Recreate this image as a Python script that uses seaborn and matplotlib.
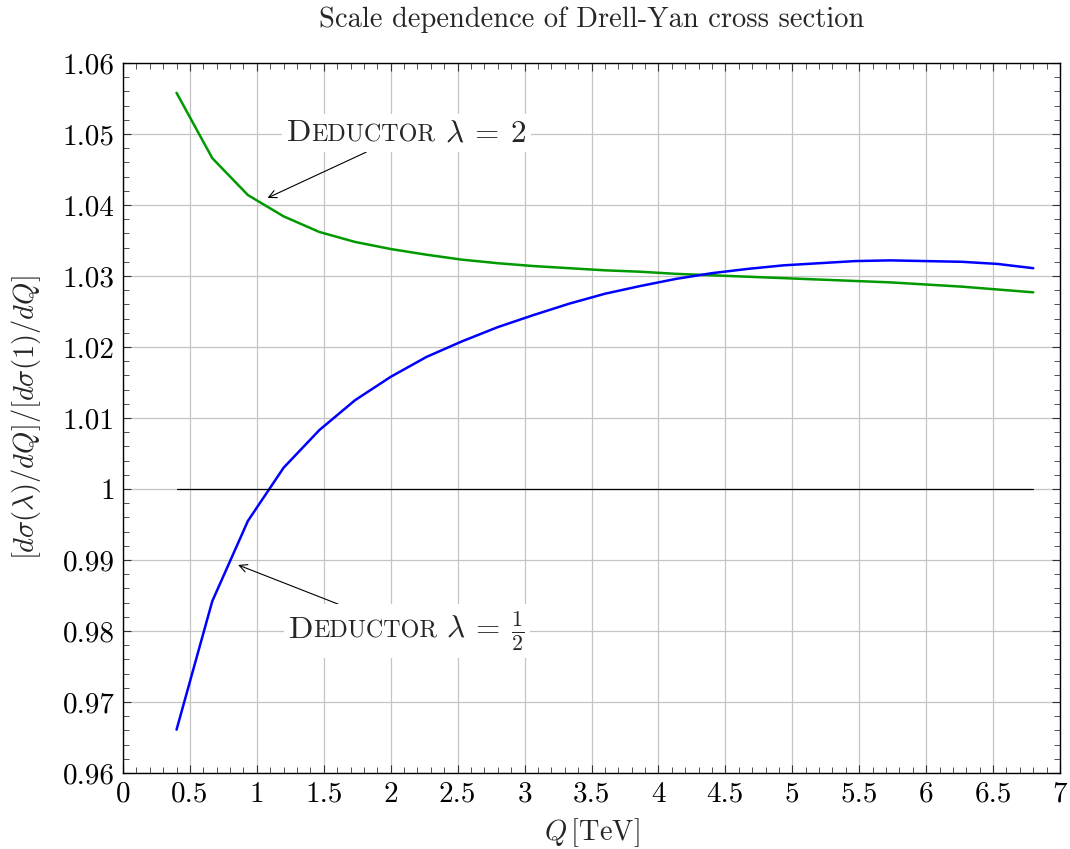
import numpy as np
import pandas as pd
import matplotlib
matplotlib.use("Agg")
import matplotlib.pyplot as plt
import seaborn as sns
from matplotlib.ticker import MultipleLocator, FuncFormatter
from matplotlib.offsetbox import TextArea, HPacker, AnnotationBbox

Q = [0.4, 0.667, 0.933, 1.2, 1.467, 1.733, 2.0, 2.267, 2.533, 2.8, 3.067, 3.333,
     3.6, 3.867, 4.133, 4.4, 4.667, 4.933, 5.2, 5.467, 5.733, 6.0, 6.267, 6.533, 6.8]
ratio_lam2 = [1.0558, 1.0466, 1.0414, 1.0384, 1.0362, 1.0348, 1.0338, 1.0330, 1.0323,
              1.0318, 1.0314, 1.0311, 1.0308, 1.0306, 1.0303, 1.0301, 1.0299, 1.0297,
              1.0295, 1.0293, 1.0291, 1.0288, 1.0285, 1.0281, 1.0277]
ratio_lamhalf = [0.9661, 0.9842, 0.9955, 1.0030, 1.0083, 1.0125, 1.0158, 1.0186, 1.0208,
                 1.0228, 1.0245, 1.0261, 1.0275, 1.0286, 1.0296, 1.0304, 1.0310, 1.0315,
                 1.0318, 1.0321, 1.0322, 1.0321, 1.0320, 1.0317, 1.0311]
ref_x = [0.4, 6.8]
ref_y = [1.0, 1.0]

sns.set_style("ticks")
plt.rcParams["font.family"] = ["serif"]
plt.rcParams["font.serif"] = ["cmr10"]
plt.rcParams["mathtext.fontset"] = "cm"
plt.rcParams["axes.unicode_minus"] = False
plt.rcParams["axes.formatter.use_mathtext"] = True

fig = plt.figure(figsize=(10.70, 8.49), dpi=100)
ax = fig.add_axes([123/1070, 76/849, (1060-123)/1070, (773-63)/849])

df = pd.DataFrame({"Q": Q + Q, "r": ratio_lam2 + ratio_lamhalf,
                   "s": ["lam2"]*len(Q) + ["lamhalf"]*len(Q)})
sns.lineplot(data=df, x="Q", y="r", hue="s", palette={"lam2": "#009900", "lamhalf": "#0000ff"},
             linewidth=1.8, legend=False, ax=ax, zorder=3)
sns.lineplot(x=ref_x, y=ref_y, color="black", linewidth=0.9, ax=ax, zorder=3)

ax.set_xlim(0, 7)
ax.set_ylim(0.96, 1.06)
ax.xaxis.set_major_locator(MultipleLocator(0.5))
ax.xaxis.set_minor_locator(MultipleLocator(0.1))
ax.yaxis.set_major_locator(MultipleLocator(0.01))
ax.yaxis.set_minor_locator(MultipleLocator(0.002))
ax.xaxis.set_major_formatter(FuncFormatter(lambda v, p: f"{round(v, 2):g}"))
ax.yaxis.set_major_formatter(FuncFormatter(lambda v, p: f"{round(v, 3):g}"))
ax.tick_params(which="both", direction="in", top=True, right=True, colors="#333333",
               labelcolor="black", labelsize=21)
ax.tick_params(which="major", length=6, width=0.8, pad=6)
ax.tick_params(which="minor", length=4, width=0.6)
ax.grid(True, which="major", color="#c4c4c4", linewidth=0.9, zorder=0)
ax.set_axisbelow(True)
for s in ax.spines.values():
    s.set_linewidth(1.0)
    s.set_color("black")

ax.set_xlabel(r"$Q\,[\mathrm{TeV}]$", fontsize=20.5, labelpad=6)
ax.set_ylabel(r"$[d\sigma(\lambda)/dQ]/[d\sigma(1)/dQ]$", fontsize=20.5, labelpad=14)
ax.set_title("Scale dependence of Drell-Yan cross section", fontsize=20.5, pad=26)


def deductor(lam):
    parts = [TextArea("D", textprops=dict(fontsize=23)),
             TextArea("EDUCTOR", textprops=dict(fontsize=17.3)),
             TextArea(r"$\ \lambda\:=\:" + lam + "$", textprops=dict(fontsize=22.5))]
    return HPacker(children=parts, align="baseline", pad=0, sep=0)


ab1 = AnnotationBbox(deductor("2"), xy=(1.08, 1.0410), xybox=(2.12, 1.0501),
                     xycoords="data", boxcoords="data", frameon=True, pad=0.35,
                     bboxprops=dict(fc="white", ec="none"),
                     arrowprops=dict(arrowstyle="->", color="black", lw=0.8, shrinkA=0, shrinkB=0))
ax.add_artist(ab1)
ab2 = AnnotationBbox(deductor(r"\frac{1}{2}"), xy=(0.86, 0.9893), xybox=(2.12, 0.9800),
                     xycoords="data", boxcoords="data", frameon=True, pad=0.35,
                     bboxprops=dict(fc="white", ec="none"),
                     arrowprops=dict(arrowstyle="->", color="black", lw=0.8, shrinkA=0, shrinkB=0))
ax.add_artist(ab2)

fig.savefig("out.png", dpi=100)
